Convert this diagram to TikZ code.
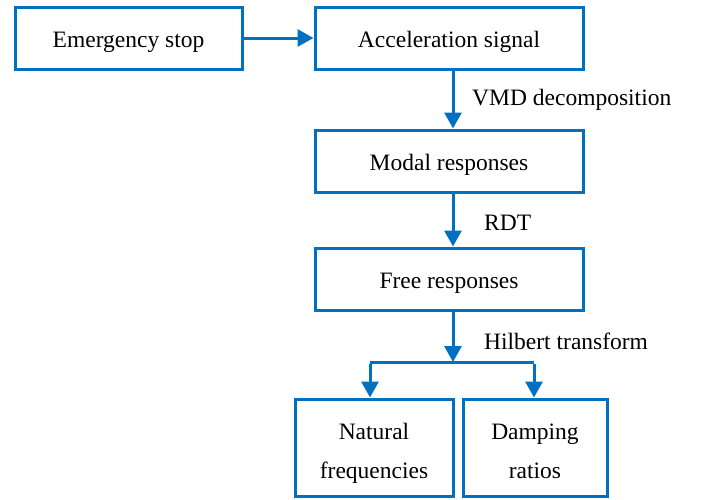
\documentclass[tikz,border=0pt]{standalone}
\usepackage{fontspec}
\setmainfont{Liberation Serif}
\usetikzlibrary{arrows.meta}
\definecolor{bl}{HTML}{0070C0}
\begin{document}
\begin{tikzpicture}[x=1pt,y=-1pt,
  box/.style={draw=bl,line width=3pt,inner sep=0pt,font=\fontsize{23.5}{39}\selectfont,align=center,text height=18pt,text depth=0pt},
  box2/.style={box,text height=61pt,text depth=0pt},
  lab/.style={font=\fontsize{23.5}{28}\selectfont,inner sep=0pt,anchor=west},
  arr/.style={draw=bl,line width=3pt,-{Triangle[length=16pt,width=17pt]}}]
\useasboundingbox (0,0) rectangle (704,499);
\node[box,minimum width=227pt,minimum height=62pt] (es) at (128.5,38) {Emergency stop};
\node[box,minimum width=268pt,minimum height=62pt] (as) at (449,38) {Acceleration signal};
\node[box,minimum width=268pt,minimum height=62pt] (mr) at (449,161) {Modal responses};
\node[box,minimum width=268pt,minimum height=62pt] (fr) at (449,279) {Free responses};
\node[box2,minimum width=158pt,minimum height=97pt] (nf) at (374,447.5) {Natural\\frequencies};
\node[box2,minimum width=144pt,minimum height=97pt] (dr) at (535,447.5) {Damping\\ratios};
\coordinate (br) at (453,362);
\coordinate (bl) at (370,362);
\coordinate (brr) at (534,362);
\draw[arr] (es.east) -- (as.west);
\draw[arr] (as.south -| br) -- (mr.north -| br);
\draw[arr] (mr.south -| br) -- (fr.north -| br);
\draw[arr] (fr.south -| br) -- (br);
\draw[draw=bl,line width=3pt] (bl) -- (brr);
\draw[arr] ([yshift=-1.5pt]bl) -- (bl |- nf.north);
\draw[arr] ([yshift=-1.5pt]brr) -- (brr |- dr.north);
\node[lab] (l1) at (472,100) {VMD decomposition};
\node[lab] (l2) at (484,223) {RDT};
\node[lab] (l3) at (484,341) {Hilbert transform};
\end{tikzpicture}
\end{document}
